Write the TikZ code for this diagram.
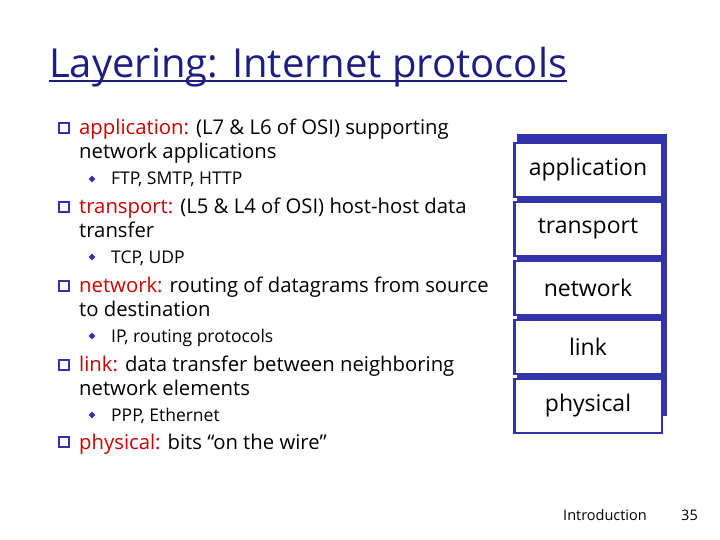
\documentclass[tikz,border=0pt]{standalone}
\usepackage{fontspec}
\setmainfont{Open Sans}
\usetikzlibrary{shapes.geometric}
\definecolor{ttl}{RGB}{30,30,130}
\definecolor{red1}{RGB}{204,0,0}
\definecolor{stk}{RGB}{50,50,170}
\begin{document}
\begin{tikzpicture}[x=1pt,y=-1pt,
  body/.style={anchor=base west,inner sep=0pt,font=\fontsize{20.3}{24}\selectfont},
  sub/.style={anchor=base west,inner sep=0pt,font=\fontsize{17.5}{20}\selectfont},
  qb/.style={draw=stk,line width=1.6pt,minimum size=10pt,inner sep=0pt},
  vb/.style={fill=stk,diamond,inner sep=0pt},
  layer/.style={draw=stk,line width=2.5pt,fill=white,minimum width=147.5pt,minimum height=54pt,inner sep=0pt,font=\fontsize{23}{27}\selectfont},
  foot/.style={anchor=base west,inner sep=0pt,font=\fontsize{14.5}{17}\selectfont}]
\useasboundingbox (0,0) rectangle (720,540);
\node[anchor=base west,inner sep=0pt,text=ttl,font=\fontsize{40}{46}\selectfont] (title) at (49,78) {Layering: Internet protocols};
\draw[ttl,line width=1.3pt] ([yshift=-3pt]title.base west) -- ([yshift=-3pt]title.base east);
% bullets
\foreach \y/\n in {128/q1,207/q2,286/q3,365/q4,442/q5}{\node[qb] (\n) at (64,\y) {};}
\foreach \y/\n in {179/v1,257/v2,336/v3,415/v4}{\node[vb,minimum size=7pt] (\n) at (92,\y) {};}
\node[body] (t1) at (79,135) {\textcolor{red1}{application:} (L7 \& L6 of OSI) supporting};
\node[body] (t1b) at (79,159) {network applications};
\node[sub] (s1) at (111,185) {FTP, SMTP, HTTP};
\node[body] (t2) at (79,214) {\textcolor{red1}{transport:} (L5 \& L4 of OSI) host-host data};
\node[body] (t2b) at (79,237) {transfer};
\node[sub] (s2) at (111,263) {TCP, UDP};
\node[body] (t3) at (79,292) {\textcolor{red1}{network:} routing of datagrams from source};
\node[body] (t3b) at (79,316) {to destination};
\node[sub] (s3) at (111,342) {IP, routing protocols};
\node[body] (t4) at (79,371) {\textcolor{red1}{link:} data transfer between neighboring};
\node[body] (t4b) at (79,395) {network elements};
\node[sub] (s4) at (111,421) {PPP, Ethernet};
\node[body] (t5) at (79,449) {\textcolor{red1}{physical:} bits “on the wire”};
% stack
\node[draw=stk,fill=stk,line width=2.5pt,minimum width=147.5pt,minimum height=279pt] (back) at (592,275) {};
\node[layer] (l1) at (588,170) {application};
\node[layer,anchor=north] (l2) at ([yshift=-2.5pt]l1.south) {transport};
\node[layer,anchor=north] (l3) at ([yshift=-2.5pt]l2.south) {network};
\node[layer,anchor=north] (l4) at ([yshift=-2.5pt]l3.south) {link};
\node[layer,anchor=north] (l5) at ([yshift=-2.5pt]l4.south) {physical};
\node[foot] (f1) at (563,520) {Introduction};
\node[foot] (f2) at (681,520) {35};
\end{tikzpicture}
\end{document}
